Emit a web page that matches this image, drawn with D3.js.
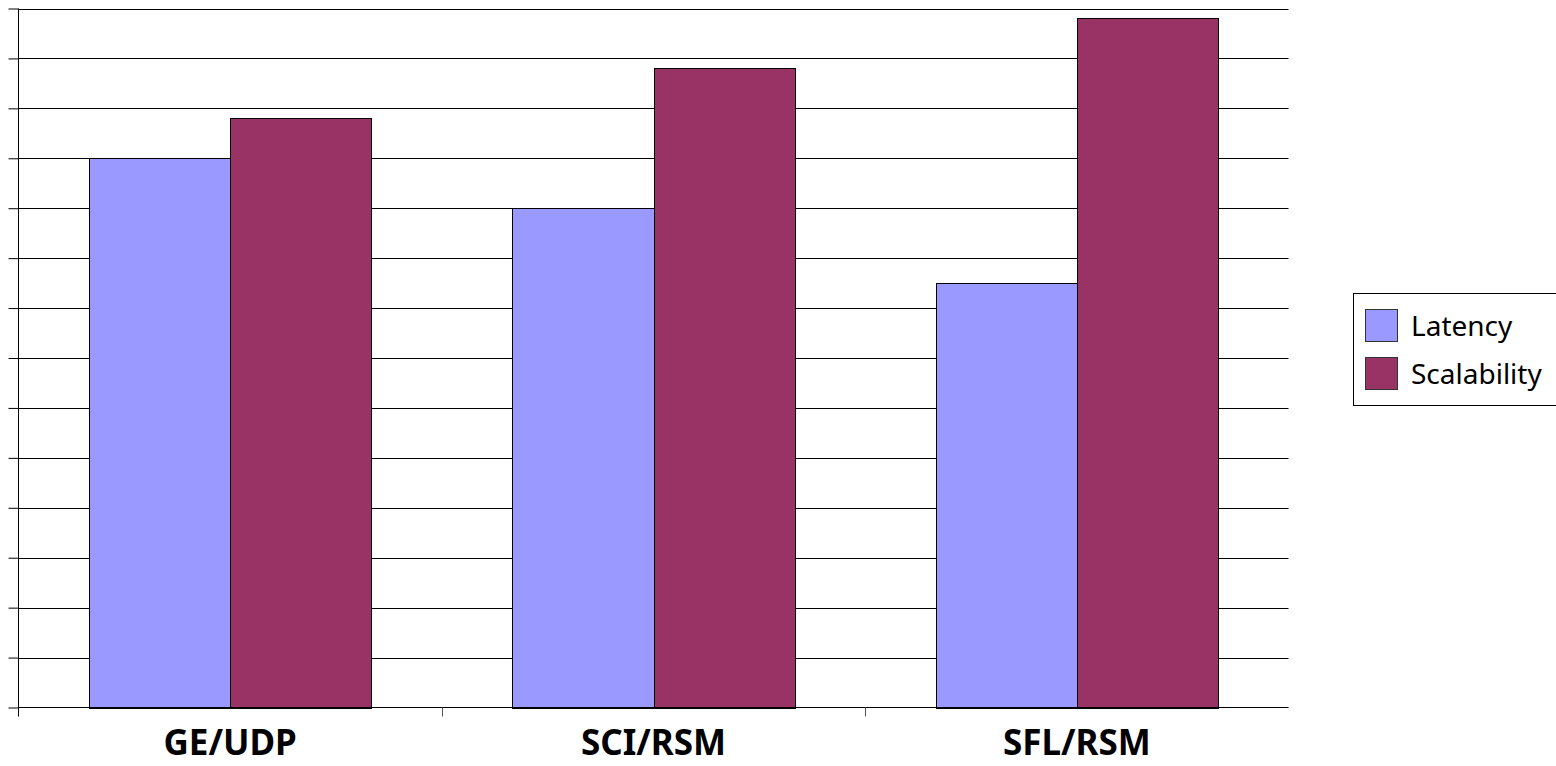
<!DOCTYPE html>
<html>
<head>
<meta charset="utf-8">
<script src="https://cdn.jsdelivr.net/npm/d3@7"></script>
<style>
  html, body { margin: 0; padding: 0; background: #fff; }
  svg { display: block; }
</style>
</head>
<body>
<svg id="chart" width="1556" height="766"></svg>
<script>
// Categories and series
const categories = ["GE/UDP", "SCI/RSM", "SFL/RSM"];
const seriesNames = ["Latency", "Scalability"];
const latency = [11.0, 10.0, 8.5];
const scalability = [11.8, 12.8, 13.8];
const yTicks = [0, 1, 2, 3, 4, 5, 6, 7, 8, 9, 10, 11, 12, 13, 14];
const colors = ["#9999FF", "#993366"];

const svg = d3.select("#chart");
const plot = { left: 18.5, right: 1288.5, top: 8.5, bottom: 707.5 };

const x = d3.scaleBand().domain(categories).range([plot.left, plot.right]).paddingInner(0).paddingOuter(0);
const y = d3.scaleLinear().domain([0, 14]).range([plot.bottom, plot.top]);

// Gridlines
svg.append("g")
  .selectAll("line")
  .data(yTicks.filter(d => d > 0))
  .join("line")
  .attr("x1", plot.left).attr("x2", plot.right)
  .attr("y1", d => Math.round(y(d)) + 0.5).attr("y2", d => Math.round(y(d)) + 0.5)
  .attr("stroke", "#000").attr("stroke-width", 1);

// Bars: two adjacent bars per category, half a bar of gap on each side
const inner = d3.scaleBand().domain(seriesNames).range([0, x.bandwidth()]).paddingOuter(0.5).paddingInner(0);
const series = [latency, scalability];
const barG = svg.append("g");
categories.forEach((c, i) => {
  seriesNames.forEach((s, j) => {
    const v = series[j][i];
    const x0 = Math.round(x(c) + inner(s)) + 0.5;
    const x1 = Math.round(x(c) + inner(s) + inner.bandwidth()) + 0.5;
    const yt = Math.round(y(v)) + 0.5;
    barG.append("rect")
      .attr("x", x0).attr("y", yt)
      .attr("width", x1 - x0).attr("height", Math.round(y(0)) + 0.5 - yt)
      .attr("fill", colors[j]).attr("stroke", "#000").attr("stroke-width", 1);
  });
});

// Y axis (ticks, no labels)
const yAxis = d3.axisLeft(y).tickValues(yTicks).tickSize(10).tickFormat("");
const yg = svg.append("g").attr("transform", `translate(${plot.left},0)`).call(yAxis);
yg.select(".domain").attr("d", `M0,${plot.top}V${plot.bottom + 9}`).attr("stroke", "#000");
yg.selectAll(".tick line").attr("stroke", "#000");

// X axis baseline and category separators
svg.append("line")
  .attr("x1", plot.left).attr("x2", plot.right)
  .attr("y1", plot.bottom).attr("y2", plot.bottom)
  .attr("stroke", "#000").attr("stroke-width", 1);
svg.append("g")
  .selectAll("line")
  .data(categories.slice(1))
  .join("line")
  .attr("x1", d => Math.round(x(d)) + 0.5).attr("x2", d => Math.round(x(d)) + 0.5)
  .attr("y1", plot.bottom).attr("y2", plot.bottom + 9)
  .attr("stroke", "#555").attr("stroke-width", 1);

// Category labels
svg.append("g")
  .selectAll("text")
  .data(categories)
  .join("text")
  .attr("x", d => x(d) + x.bandwidth() / 2)
  .attr("y", 755)
  .attr("text-anchor", "middle")
  .attr("font-family", "'Noto Sans', sans-serif")
  .attr("font-weight", "bold")
  .attr("font-size", 35)
  .attr("fill", "#000")
  .text(d => d);

// Legend
const legend = svg.append("g");
legend.append("rect")
  .attr("x", 1353.5).attr("y", 293.5)
  .attr("width", 220).attr("height", 112)
  .attr("fill", "#fff").attr("stroke", "#000").attr("stroke-width", 1);
seriesNames.forEach((s, j) => {
  const ry = 309.5 + j * 48;
  legend.append("rect")
    .attr("x", 1365.5).attr("y", ry)
    .attr("width", 32).attr("height", 32)
    .attr("fill", colors[j]).attr("stroke", "#333").attr("stroke-width", 1);
  legend.append("text")
    .attr("x", 1411).attr("y", ry + 26)
    .attr("font-family", "'Noto Sans', sans-serif")
    .attr("font-size", 28)
    .attr("fill", "#000")
    .text(s);
});
</script>
</body>
</html>
